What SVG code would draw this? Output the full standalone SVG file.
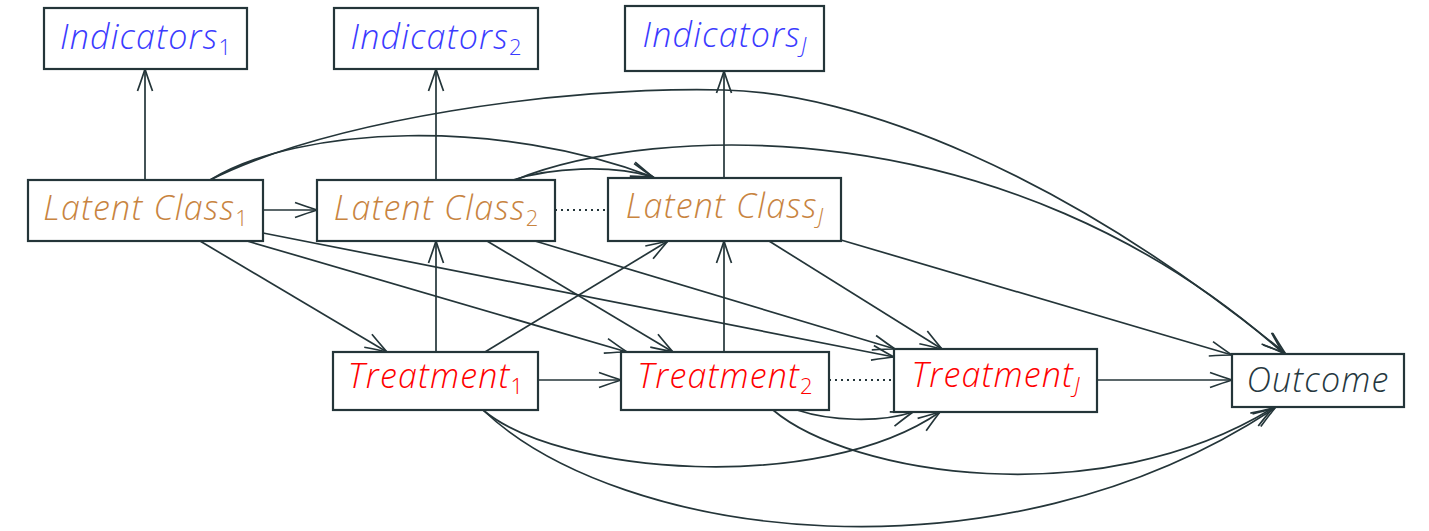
<svg xmlns="http://www.w3.org/2000/svg" width="1429" height="531" viewBox="0 0 1429 531">
<style>
.box{fill:#fff;stroke:#243539;stroke-width:2.2}
.lbl{font-family:"Open Sans","Liberation Sans",sans-serif;font-style:italic;font-weight:300;font-size:34px;letter-spacing:1.2px;text-anchor:middle}
.sub{font-size:22px;font-style:normal;letter-spacing:0}
.subj{font-size:22px;font-style:italic;letter-spacing:0}
.ind{fill:#3b3bff}
.lat{fill:#c8843f}
.trt{fill:#ff0000}
.out{fill:#263840}
.e{fill:none;stroke:#243539;stroke-width:1.7;marker-end:url(#vee)}
.d{fill:none;stroke:#243539;stroke-width:1.8;stroke-dasharray:2 4}
</style>
<defs>
<marker id="vee" markerWidth="30" markerHeight="20" viewBox="-26 -10 30 20" refX="0" refY="0" orient="auto" markerUnits="userSpaceOnUse" overflow="visible">
<path d="M-22,-7.5 Q-8,-2.5 0,0 Q-8,2.5 -22,7.5" fill="none" stroke="#243539" stroke-width="1.7"/>
</marker>
</defs>
<rect width="1429" height="531" fill="#fff"/>
<g id="connectors">
<path class="e" d="M145,180 L145,69"/>
<path class="e" d="M436,180 L436,69"/>
<path class="e" d="M724,178 L724,71"/>
<path class="e" d="M263,210 L317,210"/>
<path class="e" d="M436,352 L436,241"/>
<path class="e" d="M724,352 L724,241"/>
<path class="e" d="M538,380 L621,380"/>
<path class="e" d="M1097,380 L1232,380"/>
<path class="e" d="M200,241 L387,352"/>
<path class="e" d="M247,241 L627,352"/>
<path class="e" d="M263,233 L894,357"/>
<path class="e" d="M487,241 L673,352"/>
<path class="e" d="M535,241 L895,349"/>
<path class="e" d="M485,352 L668,241"/>
<path class="e" d="M769,241 L942,349"/>
<path class="e" d="M841,240 L1232,355"/>
<path class="e" d="M210,180 C330,120 560,86 724,90 C855,93 1060,170 1285,353"/>
<path class="e" d="M515,180 C650,125 1005,105 1283,353"/>
<path class="e" d="M210,180 C300,125 500,118 653,177"/>
<path class="e" d="M513,180 C550,168 610,164 653,177"/>
<path class="e" d="M483,410 C560,475 820,495 940,412"/>
<path class="e" d="M483,410 C620,540 1000,590 1275,408"/>
<path class="e" d="M797,410 C830,421 880,423 913,412"/>
<path class="e" d="M773,410 C850,475 1100,515 1273,408"/>
<path class="d" d="M555,210 L608,210"/>
<path class="d" d="M829,380 L894,380"/>
</g>
<g id="ind1"><rect class="box" x="44" y="8" width="203" height="61"/><text class="lbl ind" x="145.5" y="49">Indicators<tspan class="sub" dy="6">1</tspan></text></g>
<g id="ind2"><rect class="box" x="334" y="8" width="204" height="61"/><text class="lbl ind" x="436" y="49">Indicators<tspan class="sub" dy="6">2</tspan></text></g>
<g id="indJ"><rect class="box" x="625" y="6" width="199" height="65"/><text class="lbl ind" x="724.5" y="47">Indicators<tspan class="subj" dy="6">J</tspan></text></g>
<g id="lc1"><rect class="box" x="28" y="180" width="235" height="61"/><text class="lbl lat" x="145.5" y="220">Latent Class<tspan class="sub" dy="6">1</tspan></text></g>
<g id="lc2"><rect class="box" x="317" y="180" width="238" height="61"/><text class="lbl lat" x="436" y="220">Latent Class<tspan class="sub" dy="6">2</tspan></text></g>
<g id="lcJ"><rect class="box" x="608" y="178" width="233" height="63"/><text class="lbl lat" x="724.5" y="218">Latent Class<tspan class="subj" dy="6">J</tspan></text></g>
<g id="t1"><rect class="box" x="333" y="352" width="205" height="58"/><text class="lbl trt" x="435.5" y="388">Treatment<tspan class="sub" dy="6">1</tspan></text></g>
<g id="t2"><rect class="box" x="621" y="352" width="208" height="58"/><text class="lbl trt" x="725" y="388">Treatment<tspan class="sub" dy="6">2</tspan></text></g>
<g id="tJ"><rect class="box" x="894" y="349" width="203" height="63"/><text class="lbl trt" x="995.5" y="387">Treatment<tspan class="subj" dy="6">J</tspan></text></g>
<g id="outcome"><rect class="box" x="1232" y="354" width="172" height="53"/><text class="lbl out" x="1318" y="392">Outcome</text></g>
</svg>
